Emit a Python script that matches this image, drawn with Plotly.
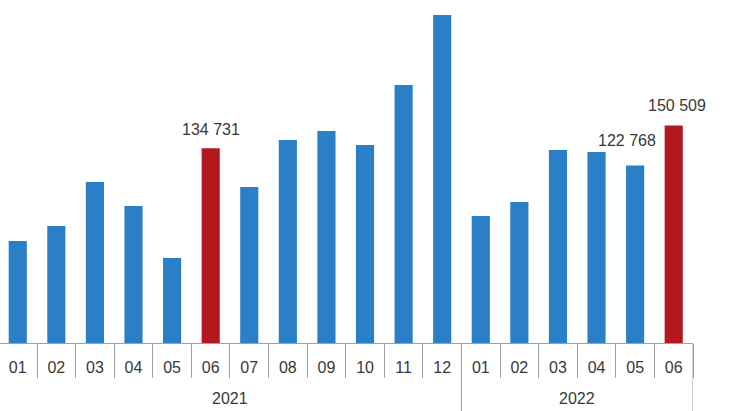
import plotly.graph_objects as go

years = ["2021", "2022"]
year_counts = [12, 6]
months = ["01", "02", "03", "04", "05", "06", "07", "08", "09", "10", "11", "12",
          "01", "02", "03", "04", "05", "06"]
values = [70600, 81000, 111400, 94800, 58800, 134731, 108000, 140500, 146700, 137000,
          178500, 227000, 87900, 97600, 133600, 132200, 122768, 150509]
highlight = [False] * 5 + [True] + [False] * 11 + [True]

blue = "#2b7fc6"
red = "#b2181d"
colors = [red if h else blue for h in highlight]

labels_idx = [5, 16, 17]
labels_text = ["134 731", "122 768", "150 509"]
labels_shift = [0, -8, 3]
labels_yshift = [8, 15, 10]

xs = list(range(len(months)))
grey = "#a0a0a0"
font_fam = "Liberation Sans, Arial"
txt = "#383838"

fig = go.Figure()
fig.add_trace(go.Bar(x=xs, y=values, marker_color=colors, width=0.47,
                     marker_line_width=0, hoverinfo="skip"))

for i, t, xsft, ysft in zip(labels_idx, labels_text, labels_shift, labels_yshift):
    fig.add_annotation(x=i, y=values[i], text=t, showarrow=False, xref="x", yref="y",
                       yanchor="bottom", xshift=xsft, yshift=ysft,
                       font=dict(family=font_fam, size=16, color=txt))

# year groups: labels and dividers
start = 0
for yr, n in zip(years, year_counts):
    end = start + n
    fig.add_annotation(x=(start + end - 1) / 2, y=-0.163, xref="x", yref="paper",
                       text=yr, showarrow=False, yanchor="middle",
                       font=dict(family=font_fam, size=16, color=txt))
    for b in (start - 0.5, end - 0.5):
        fig.add_shape(type="line", xref="x", yref="paper", x0=b, x1=b, y0=0, y1=-0.25,
                      line=dict(color=grey, width=1))
    start = end

fig.update_layout(
    width=740, height=411,
    margin=dict(l=0, r=47, t=0, b=68, autoexpand=False),
    paper_bgcolor="white", plot_bgcolor="white",
    showlegend=False,
    font=dict(family=font_fam, size=16, color=txt),
    xaxis=dict(range=[-0.46, 17.5], showline=True, linecolor=grey, linewidth=1,
               tickmode="array", tickvals=xs, ticktext=months, ticks="",
               automargin=False, showgrid=False, zeroline=False,
               ticklabelstandoff=10,
               minor=dict(tickmode="linear", tick0=-0.5, dtick=1, ticks="outside",
                          ticklen=34, tickcolor=grey, tickwidth=1, showgrid=False),
               tickfont=dict(size=16, color=txt)),
    yaxis=dict(range=[0, 237400], visible=False, showgrid=False, zeroline=False,
               automargin=False),
)

fig.write_html("out.html", config={"displayModeBar": False},
               post_script="document.body.style.margin='0';document.body.style.overflow='hidden';")
